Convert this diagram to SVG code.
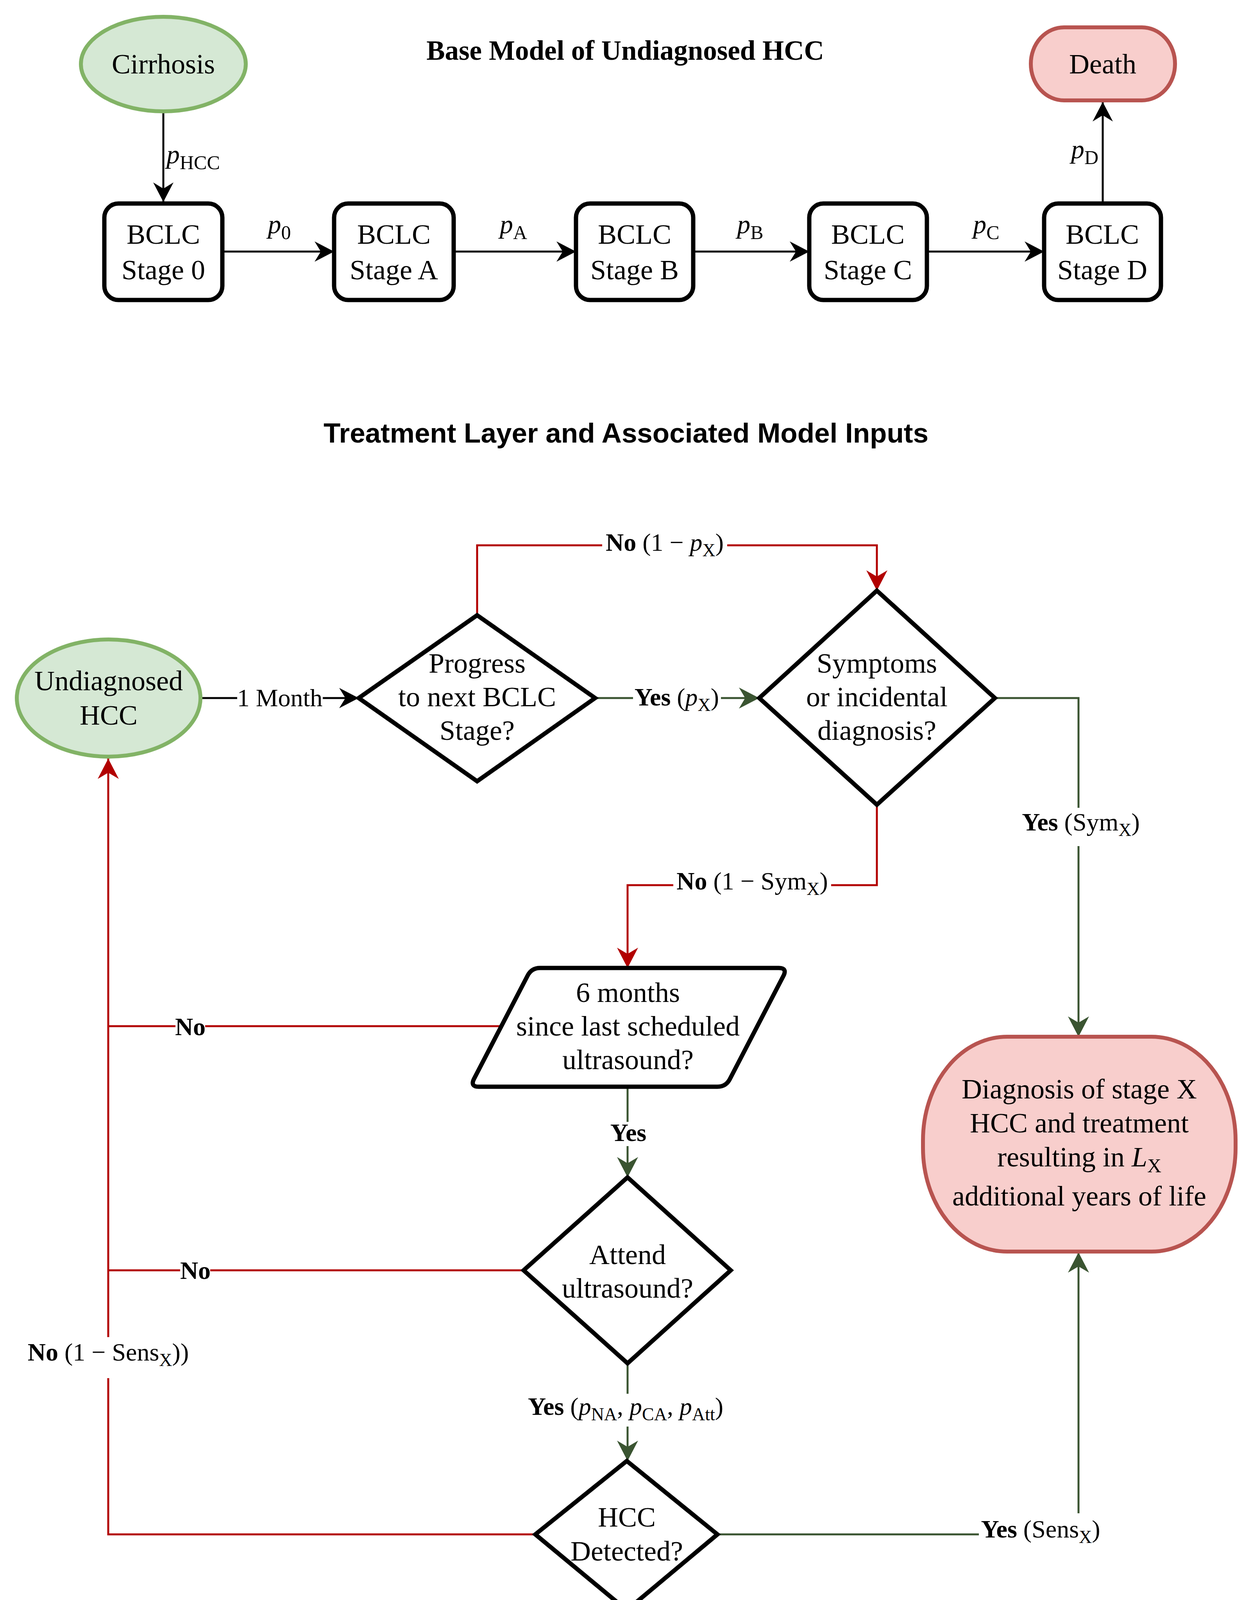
<svg xmlns="http://www.w3.org/2000/svg" width="3204" height="4146" viewBox="0 0 3204 4146">
<style>
.t{font-family:"Liberation Serif","Times New Roman",serif;font-size:72px;text-anchor:middle;fill:#000}
.l{font-family:"Liberation Serif","Times New Roman",serif;font-size:64px;text-anchor:middle;fill:#000}
.pl{font-family:"Liberation Serif","Times New Roman",serif;font-size:68px;text-anchor:middle;fill:#000}
.st{text-anchor:start}
.b{font-weight:bold}
.i{font-style:italic}
.s{font-size:46px}
.s2{font-size:50px}
.box{fill:#fff;stroke:#000;stroke-width:11}
.gr{fill:#d5e8d4;stroke:#82b366;stroke-width:10}
.rd{fill:#f8cecc;stroke:#b85450;stroke-width:10}
.ck{fill:none;stroke:#000;stroke-width:5}
.cr{fill:none;stroke:#B20000;stroke-width:5}
.cg{fill:none;stroke:#3A5431;stroke-width:5}
.bg{fill:#fff}
</style>
<defs>
<marker id="ak" viewBox="-54 -30 58 60" refX="0" refY="0" markerUnits="userSpaceOnUse" markerWidth="58" markerHeight="60" orient="auto"><path d="M0,0 L-50,-26 L-34,0 L-50,26 Z" fill="#000"/></marker>
<marker id="ar" viewBox="-54 -30 58 60" refX="0" refY="0" markerUnits="userSpaceOnUse" markerWidth="58" markerHeight="60" orient="auto"><path d="M0,0 L-52,-27 L-36,0 L-52,27 Z" fill="#B20000"/></marker>
<marker id="ag" viewBox="-54 -30 58 60" refX="0" refY="0" markerUnits="userSpaceOnUse" markerWidth="58" markerHeight="60" orient="auto"><path d="M0,0 L-52,-27 L-36,0 L-52,27 Z" fill="#3A5431"/></marker>
</defs>
<rect width="3204" height="4146" fill="#fff"/>

<text x="1600" y="153" font-family="Liberation Serif, Times New Roman, serif" font-weight="bold" font-size="71" text-anchor="middle">Base Model of Undiagnosed HCC</text>
<text x="1602" y="1133" font-family="Liberation Sans, Arial, sans-serif" font-weight="bold" font-size="71" text-anchor="middle">Treatment Layer and Associated Model Inputs</text>

<g id="connectors">
  <path class="ck" d="M418,287 V517" marker-end="url(#ak)"/>
  <path class="ck" d="M569,644 H855" marker-end="url(#ak)"/>
  <path class="ck" d="M1161,644 H1474" marker-end="url(#ak)"/>
  <path class="ck" d="M1774,644 H2071" marker-end="url(#ak)"/>
  <path class="ck" d="M2372,644 H2672" marker-end="url(#ak)"/>
  <path class="ck" d="M2822,521 V261" marker-end="url(#ak)"/>

  <path class="ck" d="M515,1787 H918" marker-end="url(#ak)"/>
  <path class="cr" d="M1221,1575 V1396 H2244 V1512" marker-end="url(#ar)"/>
  <path class="cg" d="M1523,1787 H1943" marker-end="url(#ag)"/>
  <path class="cg" d="M2546,1787 H2760 V2654" marker-end="url(#ag)"/>
  <path class="cr" d="M2244,2060 V2266 H1606 V2478" marker-end="url(#ar)"/>
  <path class="cr" d="M1284,2627 H277"/>
  <path class="cg" d="M1606,2782 V3014" marker-end="url(#ag)"/>
  <path class="cr" d="M1340,3252 H277"/>
  <path class="cg" d="M1606,3490 V3740" marker-end="url(#ag)"/>
  <path class="cr" d="M1370,3928 H277 V1942" marker-end="url(#ar)"/>
  <path class="cg" d="M1836,3928 H2760 V3206" marker-end="url(#ag)"/>

  <g id="edge-labels">
    <text class="pl st" x="426" y="418"><tspan class="i">p</tspan><tspan class="s2" dy="15">HCC</tspan></text>
    <text class="pl" x="715" y="597"><tspan class="i">p</tspan><tspan class="s2" dy="15">0</tspan></text>
    <text class="pl" x="1314" y="597"><tspan class="i">p</tspan><tspan class="s2" dy="15">A</tspan></text>
    <text class="pl" x="1920" y="597"><tspan class="i">p</tspan><tspan class="s2" dy="15">B</tspan></text>
    <text class="pl" x="2524" y="597"><tspan class="i">p</tspan><tspan class="s2" dy="15">C</tspan></text>
    <text class="pl st" x="2741" y="405"><tspan class="i">p</tspan><tspan class="s2" dy="15">D</tspan></text>

    <rect class="bg" x="607" y="1758" width="219" height="60"/>
    <text class="l" x="716" y="1808">1 Month</text>

    <rect class="bg" x="1541" y="1362" width="320" height="66"/>
    <text class="l" x="1701" y="1410"><tspan class="b">No</tspan> (1 − <tspan class="i">p</tspan><tspan class="s" dy="14">X</tspan><tspan dy="-14">)</tspan></text>

    <rect class="bg" x="1620" y="1755" width="225" height="66"/>
    <text class="l" x="1732" y="1806"><tspan class="b">Yes</tspan> (<tspan class="i">p</tspan><tspan class="s" dy="14">X</tspan><tspan dy="-14">)</tspan></text>

    <rect class="bg" x="2606" y="2068" width="322" height="98"/>
    <text class="l" x="2766" y="2126"><tspan class="b">Yes</tspan> (Sym<tspan class="s" dy="14">X</tspan><tspan dy="-14">)</tspan></text>

    <rect class="bg" x="1723" y="2230" width="404" height="64"/>
    <text class="l" x="1925" y="2277"><tspan class="b">No</tspan> (1 − Sym<tspan class="s" dy="14">X</tspan><tspan dy="-14">)</tspan></text>

    <rect class="bg" x="449" y="2603" width="76" height="56"/>
    <text class="l b" x="487" y="2650">No</text>

    <rect class="bg" x="1560" y="2872" width="96" height="62"/>
    <text class="l b" x="1608" y="2921">Yes</text>

    <rect class="bg" x="461" y="3228" width="77" height="56"/>
    <text class="l b" x="500" y="3274">No</text>

    <rect class="bg" x="60" y="3423" width="433" height="105"/>
    <text class="l" x="277" y="3483"><tspan class="b">No</tspan> (1 − Sens<tspan class="s" dy="14">X</tspan><tspan dy="-14">))</tspan></text>

    <rect class="bg" x="1330" y="3568" width="544" height="84"/>
    <text class="l" x="1601" y="3622"><tspan class="b">Yes</tspan> (<tspan class="i">p</tspan><tspan class="s" dy="14">NA</tspan><tspan dy="-14">, </tspan><tspan class="i">p</tspan><tspan class="s" dy="14">CA</tspan><tspan dy="-14">, </tspan><tspan class="i">p</tspan><tspan class="s" dy="14">Att</tspan><tspan dy="-14">)</tspan></text>

    <rect class="bg" x="2505" y="3874" width="318" height="92"/>
    <text class="l" x="2663" y="3936"><tspan class="b">Yes</tspan> (Sens<tspan class="s" dy="14">X</tspan><tspan dy="-14">)</tspan></text>
  </g>
</g>

<g id="cirrhosis">
  <ellipse class="gr" cx="418" cy="164" rx="211" ry="121"/>
  <text class="t" x="418" y="188">Cirrhosis</text>
</g>
<g id="stage0">
  <rect class="box" x="267" y="521" width="302" height="247" rx="36"/>
  <text class="t" x="418" y="624">BCLC</text>
  <text class="t" x="418" y="715">Stage 0</text>
</g>
<g id="stageA">
  <rect class="box" x="855" y="521" width="306" height="247" rx="36"/>
  <text class="t" x="1008" y="624">BCLC</text>
  <text class="t" x="1008" y="715">Stage A</text>
</g>
<g id="stageB">
  <rect class="box" x="1474" y="521" width="300" height="247" rx="36"/>
  <text class="t" x="1624" y="624">BCLC</text>
  <text class="t" x="1624" y="715">Stage B</text>
</g>
<g id="stageC">
  <rect class="box" x="2071" y="521" width="301" height="247" rx="36"/>
  <text class="t" x="2221" y="624">BCLC</text>
  <text class="t" x="2221" y="715">Stage C</text>
</g>
<g id="stageD">
  <rect class="box" x="2672" y="521" width="299" height="247" rx="36"/>
  <text class="t" x="2821" y="624">BCLC</text>
  <text class="t" x="2821" y="715">Stage D</text>
</g>
<g id="death">
  <rect class="rd" x="2638" y="70" width="369" height="187" rx="85" ry="93"/>
  <text class="t" x="2822" y="188">Death</text>
</g>

<g id="undiagnosed">
  <ellipse class="gr" cx="278" cy="1787" rx="235" ry="150"/>
  <text class="t" x="278" y="1767">Undiagnosed</text>
  <text class="t" x="278" y="1855">HCC</text>
</g>
<g id="progress">
  <polygon class="box" points="1221,1575 1523,1787 1221,2000 918,1787"/>
  <text class="t" x="1221" y="1722">Progress</text>
  <text class="t" x="1221" y="1808">to next BCLC</text>
  <text class="t" x="1221" y="1894">Stage?</text>
</g>
<g id="symptoms">
  <polygon class="box" points="2244,1512 2546,1787 2244,2060 1943,1787"/>
  <text class="t" x="2244" y="1722">Symptoms</text>
  <text class="t" x="2244" y="1808">or incidental</text>
  <text class="t" x="2244" y="1894">diagnosis?</text>
</g>
<g id="diagnosis">
  <rect class="rd" x="2362" y="2654" width="800" height="550" rx="215" ry="265"/>
  <text class="t" x="2762" y="2812">Diagnosis of stage X</text>
  <text class="t" x="2762" y="2899">HCC and treatment</text>
  <text class="t" x="2762" y="2986">resulting in <tspan class="i">L</tspan><tspan font-size="50" dy="15">X</tspan></text>
  <text class="t" x="2762" y="3086">additional years of life</text>
</g>
<g id="six-months">
  <path class="box" d="M1382,2478 L1993,2478 Q2015,2478 2005,2498 L1868,2762 Q1858,2782 1836,2782 L1225,2782 Q1203,2782 1213,2762 L1350,2498 Q1360,2478 1382,2478 Z"/>
  <text class="t" x="1607" y="2565">6 months</text>
  <text class="t" x="1607" y="2651">since last scheduled</text>
  <text class="t" x="1607" y="2737">ultrasound?</text>
</g>
<g id="attend">
  <polygon class="box" points="1606,3014 1870,3252 1606,3490 1340,3252"/>
  <text class="t" x="1606" y="3236">Attend</text>
  <text class="t" x="1606" y="3322">ultrasound?</text>
</g>
<g id="hcc-detected">
  <polygon class="box" points="1604,3740 1836,3928 1604,4122 1370,3928"/>
  <text class="t" x="1604" y="3908">HCC</text>
  <text class="t" x="1604" y="3995">Detected?</text>
</g>
</svg>
